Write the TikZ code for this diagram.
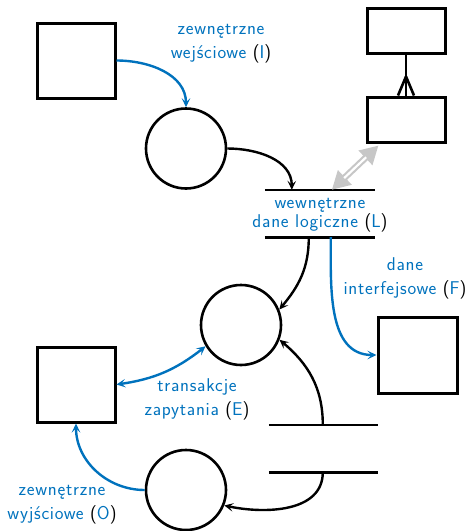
\documentclass[tikz,border=0pt]{standalone}
\usepackage{fontspec}
\setsansfont{Latin Modern Sans}[LetterSpace=4]
\usetikzlibrary{arrows.meta,calc}
\definecolor{fpblue}{RGB}{0,114,189}
\newcommand{\pl}[1]{{\color{black}(}#1{\color{black})}}
\begin{document}
\begin{tikzpicture}[x=1pt,y=-1pt,
  box/.style={draw, line width=3pt, minimum width=78pt, minimum height=75pt, inner sep=0pt},
  ent/.style={draw, line width=3pt, minimum width=78pt, minimum height=45pt, inner sep=0pt},
  proc/.style={draw, circle, line width=2.6pt, minimum size=80pt, inner sep=0pt},
  store/.style={minimum width=110pt, minimum height=47pt, inner sep=0pt},
  sline/.style={line width=2.6pt},
  lab/.style={text=fpblue, align=center, inner sep=0pt, font=\sffamily\fontsize{18.5}{24}\selectfont},
  flow/.style={line width=2.4pt, -{Stealth[length=9pt,width=8.5pt,inset=4pt]}},
  bflow/.style={flow, draw=fpblue},
  dflow/.style={line width=2.4pt, draw=fpblue, {Stealth[length=9pt,width=8.5pt,inset=4pt]}-{Stealth[length=9pt,width=8.5pt,inset=4pt]}},
  garrow/.style={draw=black!22, line width=6.5pt, {Triangle[length=18pt,width=19pt]}-{Triangle[length=18pt,width=19pt]}}
]
\useasboundingbox (0,0) rectangle (469,531);

% nodes
\node[box] (b1) at (76,60.5) {};
\node[proc] (c1) at (186,148.5) {};
\node[ent] (e1) at (406,30.5) {};
\node[ent] (e2) at (406,119.5) {};
\node[store] (s1) at (320,213.5) {};
\node[proc] (c2) at (241,325) {};
\node[box] (b4) at (76,384.5) {};
\node[box, minimum width=79pt, minimum height=76pt] (b3) at (417.5,355) {};
\node[store, minimum width=109pt] (s2) at (323.5,448.5) {};
\node[proc] (c3) at (186,490) {};

% labels
\node[lab, font=\sffamily\fontsize{18.5}{19}\selectfont] (tL) at (320,215) {wewnętrzne\\dane logiczne \pl{L}};
\node[lab] (tI) at (221,44) {zewnętrzne\\wejściowe \pl{I}};
\node[lab] (tF) at (405,278) {dane\\interfejsowe \pl{F}};
\node[lab] (tE) at (197,399) {transakcje\\zapytania \pl{E}};
\node[lab] (tO) at (62,505) {zewnętrzne\\wyjściowe \pl{O}};

% store lines
\draw[sline] (s1.north west) -- (s1.north east);
\draw[sline] (s1.south west) -- (s1.south east);
\draw[sline] (s2.north west) -- (s2.north east);
\draw[sline] (s2.south west) -- (s2.south east);

% coordinates on stores
\coordinate (s1in) at ($(s1.north west)+(27,0)$);
\coordinate (s1g) at ($(s1.north west)+(67,0)$);
\coordinate (s1o1) at ($(s1.south west)+(44,0)$);
\coordinate (s1o2) at ($(s1.south west)+(66,0)$);
\coordinate (s2t) at ($(s2.north west)+(54,0)$);
\coordinate (s2b) at ($(s2.south west)+(54,0)$);
\coordinate (e2g) at ($(e2.south west)+(13,2)$);

% entity relation with crow's foot
\coordinate (cf) at ($(e2.north)+(0,-19)$);
\draw[line width=2.6pt] (e1.south) -- (e2.north);
\draw[line width=2.6pt] (cf) -- ($(e2.north)+(-8,0)$);
\draw[line width=2.6pt] (cf) -- ($(e2.north)+(8,0)$);

% gray double arrow
\draw[garrow] (s1g) -- (e2g);
\draw[white, line width=2.2pt, shorten <=17pt, shorten >=17pt] (s1g) -- (e2g);

% flows
\draw[bflow] (b1.east) to[out=0,in=90] (c1.north);
\draw[flow] (c1.east) to[out=0,in=90] (s1in);
\draw[flow] (s1o1) to[out=-90,in=50] (c2.22);
\draw[bflow] (s1o2) to[out=-90,in=180] (b3.west);
\draw[flow] (s2t) to[out=90,in=-40] (c2.-21);
\draw[flow] (s2b) to[out=-90,in=-12] (c3.-22);
\draw[dflow] (b4.east) to[bend right=15] (c2.211);
\draw[bflow] (c3.west) to[out=180,in=-90] (b4.south);
\end{tikzpicture}
\end{document}
